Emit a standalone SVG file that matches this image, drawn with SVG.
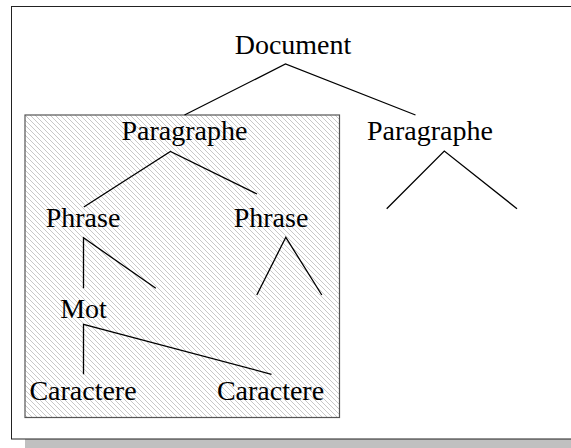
<svg xmlns="http://www.w3.org/2000/svg" width="571" height="448" viewBox="0 0 571 448">
  <defs>
    <pattern id="hatch" patternUnits="userSpaceOnUse" width="5" height="5">
      <path d="M-1,-1 L6,6 M-1,4 L1,6 M4,-1 L6,1" stroke="#b0b0b0" stroke-width="0.7" fill="none"/>
    </pattern>
    <style>
      .lbl { font-family: "Liberation Serif", "Times New Roman", serif; font-size: 28px; fill: #000; text-anchor: middle; }
      .edge { stroke: #000; stroke-width: 1.3; fill: none; }
    </style>
  </defs>
  <rect x="0" y="0" width="571" height="448" fill="#fff"/>
  <g id="frame">
    <rect x="25" y="20" width="560" height="440" fill="#c0c0c0"/>
    <rect x="11.5" y="6.5" width="570" height="432.5" fill="#fff" stroke="#222" stroke-width="1"/>
  </g>
  <g id="group-box">
    <rect x="25" y="115" width="314.5" height="302.5" fill="#fff"/>
    <rect x="25" y="115" width="314.5" height="302.5" fill="url(#hatch)" stroke="#555" stroke-width="1.2"/>
  </g>
  <g id="connectors">
    <polyline class="edge" points="184.5,115 285.5,64 415.5,115"/>
    <polyline class="edge" points="83.8,207 170.4,151.5 257,194"/>
    <polyline class="edge" points="386.7,208.7 444.3,151 517,208.7"/>
    <polyline class="edge" points="83.5,288.3 83.5,237.8 155.8,288.3"/>
    <polyline class="edge" points="256.8,295 285.8,237.3 321.8,295"/>
    <polyline class="edge" points="83.5,374.3 83.5,324.3 271.5,374.3"/>
  </g>
  <g id="node-document"><text class="lbl" x="293" y="54">Document</text></g>
  <g id="node-paragraphe-1"><text class="lbl" x="184.5" y="140">Paragraphe</text></g>
  <g id="node-paragraphe-2"><text class="lbl" x="430" y="140">Paragraphe</text></g>
  <g id="node-phrase-1"><text class="lbl" x="83" y="226.7">Phrase</text></g>
  <g id="node-phrase-2"><text class="lbl" x="271" y="226.7">Phrase</text></g>
  <g id="node-mot"><text class="lbl" x="83.5" y="318">Mot</text></g>
  <g id="node-caractere-1"><text class="lbl" x="83" y="400">Caractere</text></g>
  <g id="node-caractere-2"><text class="lbl" x="270.5" y="400">Caractere</text></g>
</svg>
